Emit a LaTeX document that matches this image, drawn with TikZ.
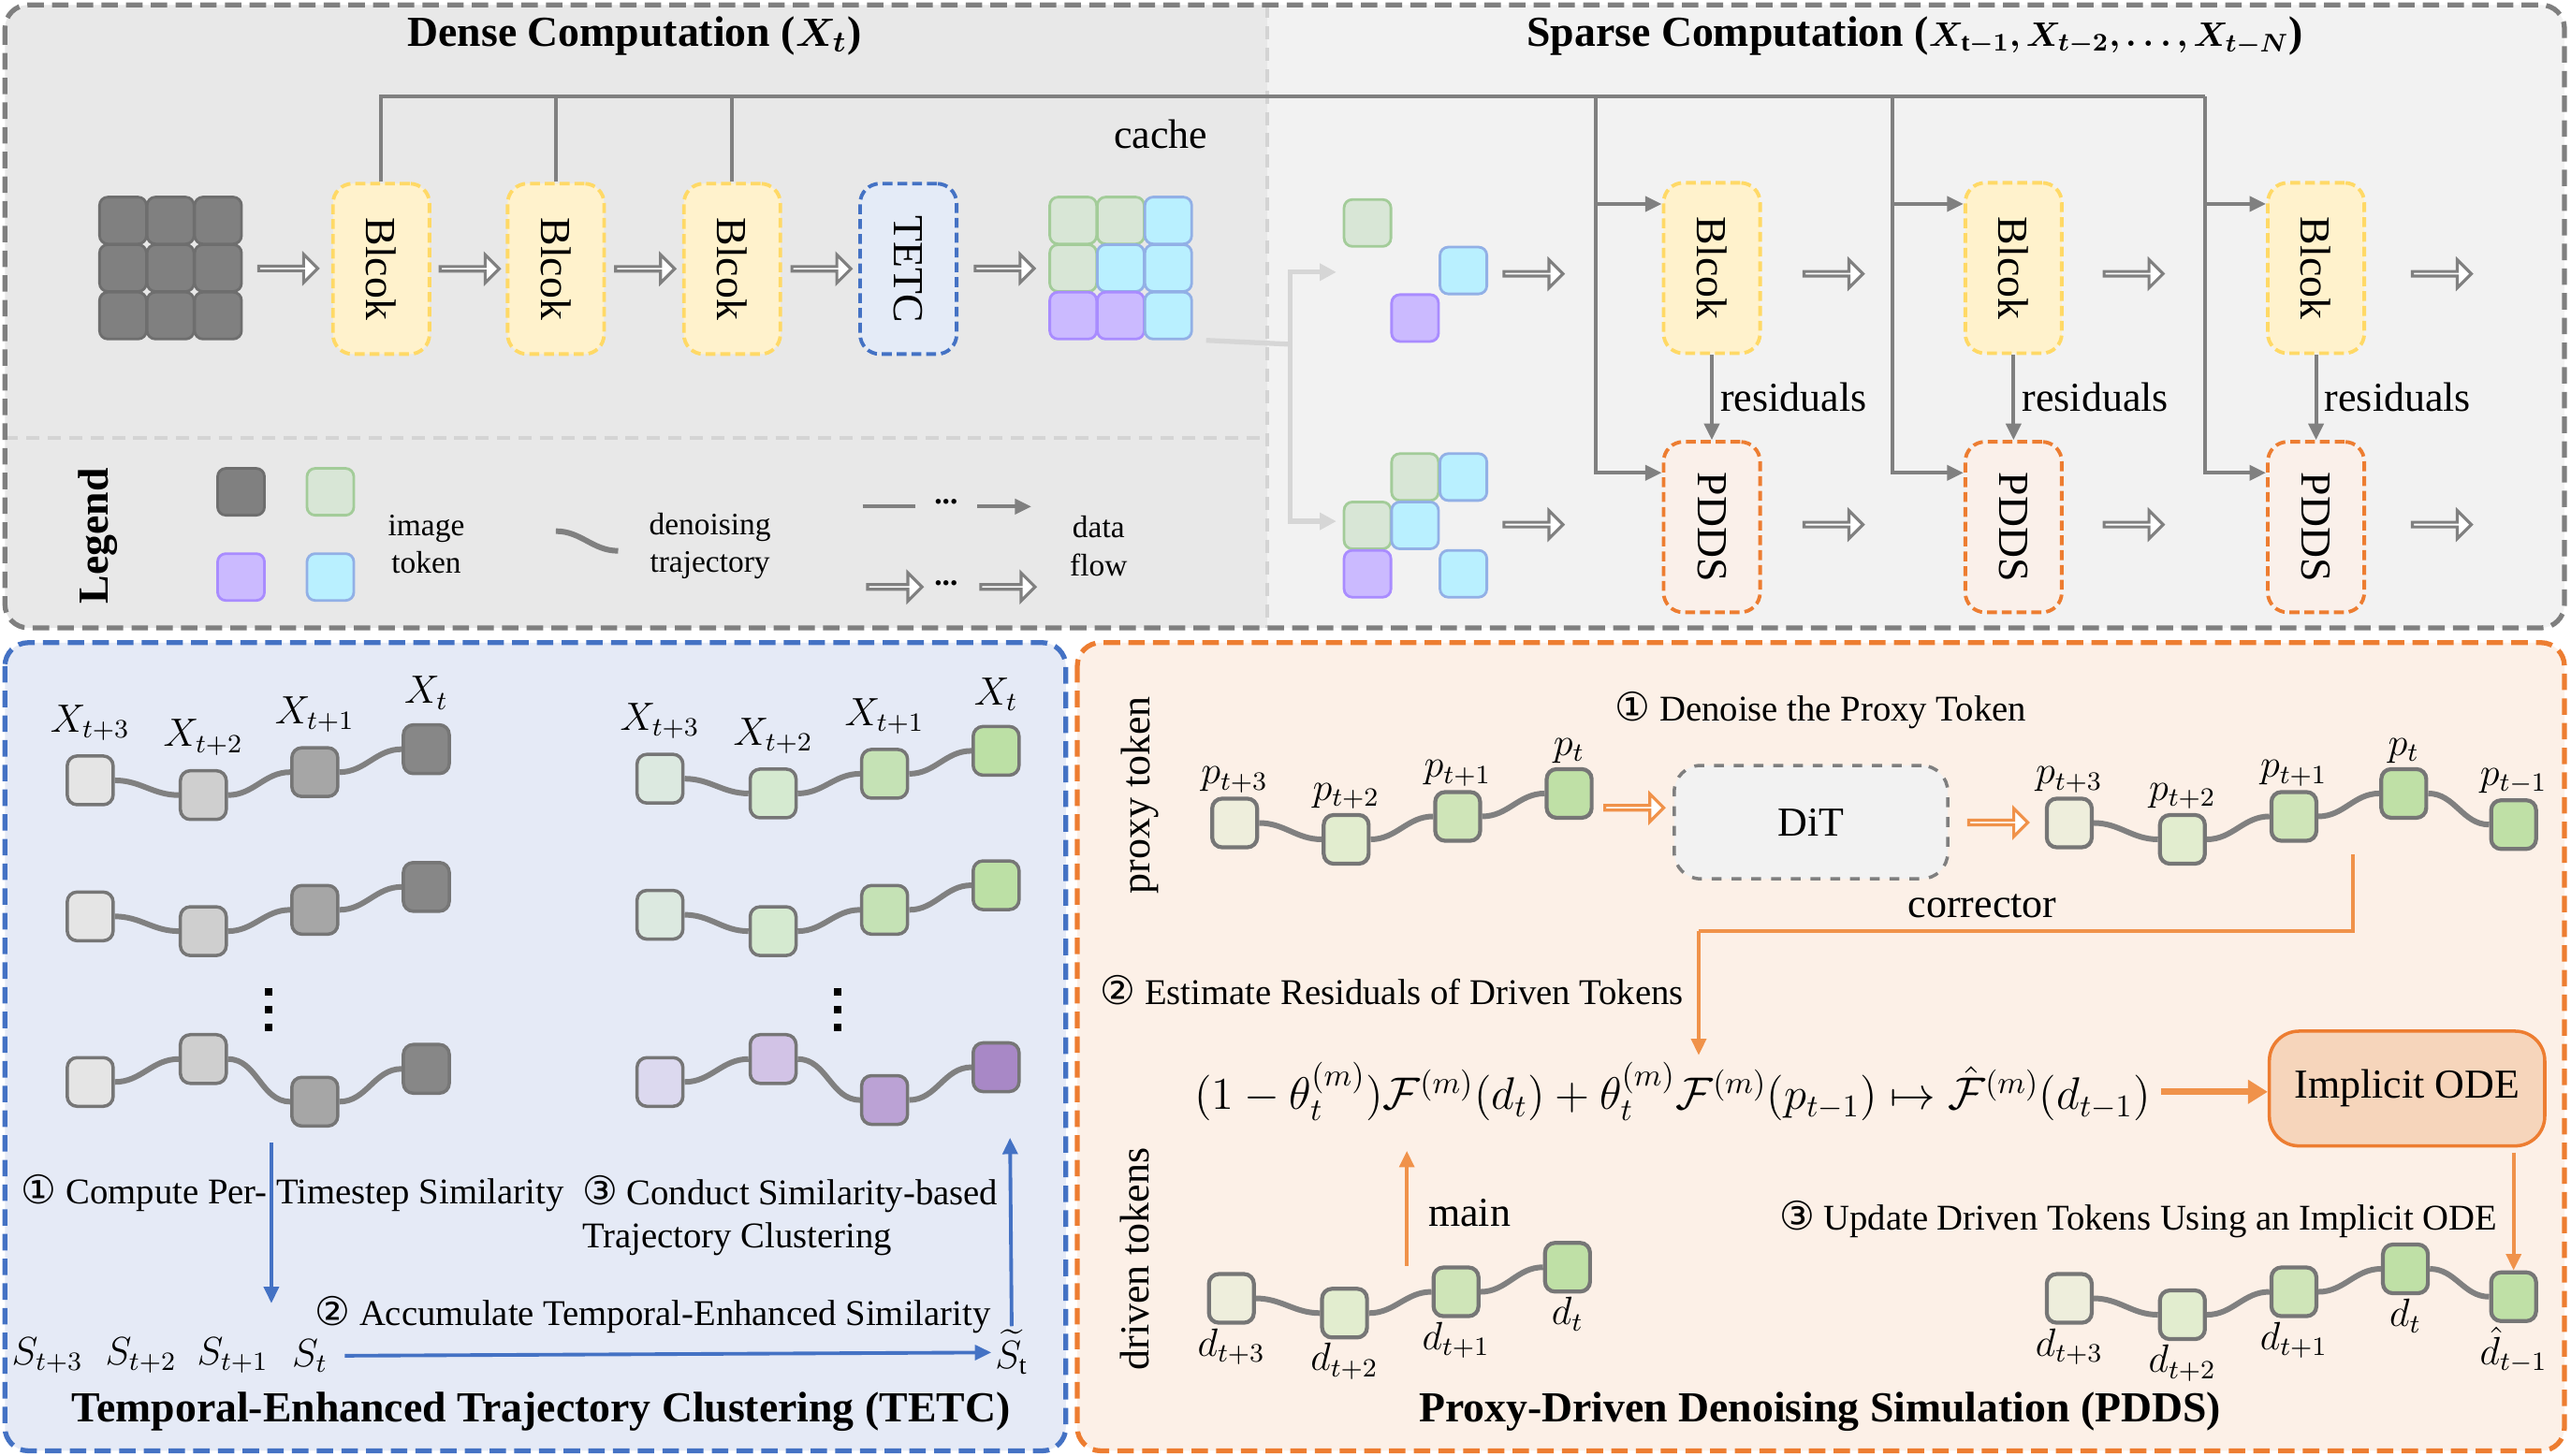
\documentclass[tikz,border=0pt]{standalone}
\usepackage{amsmath}
\usepackage{amssymb}
\usepackage{bm}
\usepackage{fontspec}
\setmainfont{Liberation Serif}
\newfontfamily\circfont{DejaVu Sans}
\usepackage{tikz}
\usetikzlibrary{positioning,shapes,calc,fit,arrows.meta}

\definecolor{framegray}{HTML}{7F7F7F}
\definecolor{densebg}{HTML}{E8E8E8}
\definecolor{sparsebg}{HTML}{F2F2F2}
\definecolor{divgray}{HTML}{D4D4D4}
\definecolor{tetcblue}{HTML}{4472C4}
\definecolor{tetcbg}{HTML}{E5EAF6}
\definecolor{pddsorange}{HTML}{ED7D31}
\definecolor{pddsbg}{HTML}{FCF0E7}
\definecolor{lineorange}{HTML}{F0924A}
\definecolor{blkfill}{HTML}{FFF2CC}
\definecolor{blkdraw}{HTML}{FFD966}
\definecolor{tetcfill}{HTML}{E4EBF7}
\definecolor{pdfill}{HTML}{FAF0EA}
\definecolor{odefill}{HTML}{F6D5BB}
\definecolor{arrgray}{HTML}{808080}
\definecolor{splitgray}{HTML}{D6D6D6}
% big token colours
\definecolor{drkF}{HTML}{808080}\definecolor{drkD}{HTML}{6E6E6E}
\definecolor{grnF}{HTML}{D8E6D6}\definecolor{grnD}{HTML}{A3CC99}
\definecolor{cynF}{HTML}{B9F0FF}\definecolor{cynD}{HTML}{92B0E6}
\definecolor{prpF}{HTML}{CBBAFF}\definecolor{prpD}{HTML}{A98CFF}
% trajectory colours
\definecolor{trajdraw}{HTML}{767676}
\definecolor{gA}{HTML}{E5E5E5}\definecolor{gB}{HTML}{CFCFCF}
\definecolor{gC}{HTML}{A6A6A6}\definecolor{gD}{HTML}{878787}
\definecolor{eA}{HTML}{DCE9E0}\definecolor{eB}{HTML}{D5EAD0}
\definecolor{eC}{HTML}{C5E2B5}\definecolor{eD}{HTML}{BCE0A5}
\definecolor{uA}{HTML}{DCD9EF}\definecolor{uB}{HTML}{D2C3E6}
\definecolor{uC}{HTML}{BBA2D5}\definecolor{uD}{HTML}{A888C6}
\definecolor{pA}{HTML}{EEEEDC}\definecolor{pB}{HTML}{E2EDCF}
\definecolor{pC}{HTML}{CFE5B8}\definecolor{pD}{HTML}{BFE0A6}

\begin{document}
\begin{tikzpicture}[x=0.0175cm,y=-0.0175cm]

	\tikzset{boxframe/.style={draw=#1,line width=1.5pt,dash pattern=on 5pt off 2.5pt,rounded corners=0.25cm}}
	\tikzset{divline/.style={draw=divgray,line width=1pt,dash pattern=on 4pt off 2.5pt}}
	\tikzset{titlestyle/.style={font=\fontsize{13}{15}\selectfont\bfseries}}
	\tikzset{txt/.style={font=\fontsize{12.5}{14}\selectfont}}
	\tikzset{steptxt/.style={font=\fontsize{11}{13}\selectfont,align=left}}
	\tikzset{smalltxt/.style={font=\fontsize{9.5}{11.5}\selectfont,align=center}}
	\tikzset{mathlbl/.style={font=\fontsize{12}{14}\selectfont,inner sep=1pt}}
	\tikzset{dotstyle/.style={fill=black,inner sep=0pt,minimum size=0.08cm}}
	\tikzset{bigtok/.style={draw=#1D,fill=#1F,rounded corners=2.5pt,line width=0.8pt,minimum size=0.5cm,inner sep=0pt}}
	\tikzset{trajtok/.style={draw=trajdraw,fill=#1,rounded corners=3pt,line width=1pt,minimum width=0.49cm,minimum height=0.52cm,inner sep=0pt}}
	\tikzset{pdtok/.style={draw=trajdraw,fill=#1,rounded corners=3pt,line width=1.2pt,minimum width=0.48cm,minimum height=0.52cm,inner sep=0pt}}
	\tikzset{trajline/.style={draw=arrgray,line width=1.7pt}}
	\tikzset{blkstyle/.style={draw=blkdraw,fill=blkfill,line width=1.1pt,dash pattern=on 3pt off 1.5pt,rounded corners=6pt,minimum width=1.03cm,minimum height=1.82cm,inner sep=0pt,font=\fontsize{13}{15}\selectfont}}
	\tikzset{tetcstyle/.style={blkstyle,draw=tetcblue,fill=tetcfill}}
	\tikzset{pddsstyle/.style={blkstyle,draw=pddsorange,fill=pdfill}}
	\tikzset{harrow/.style={single arrow,draw=#1,fill=white,line width=0.9pt,minimum height=0.63cm,minimum width=0.3cm,single arrow head extend=0.08cm,inner sep=0pt}}
	\tikzset{cline/.style={draw=arrgray,line width=1.2pt}}
	\tikzset{carrow/.style={cline,-{Triangle[length=5pt,width=4.5pt]}}}
	\tikzset{splitline/.style={draw=splitgray,line width=1.5pt}}
	\tikzset{splitarrow/.style={splitline,-{Triangle[length=5pt,width=5pt]}}}
	\tikzset{blarrow/.style={draw=tetcblue,line width=1.1pt,-{Triangle[length=5pt,width=4.5pt]}}}
	\tikzset{orline/.style={draw=lineorange,line width=1.1pt}}
	\tikzset{orarrow/.style={orline,-{Triangle[length=5pt,width=4.5pt]}}}
	\tikzset{orthick/.style={draw=lineorange,line width=2pt,-{Triangle[length=6pt,width=7pt]}}}

	\newcommand\stepno[1]{{\circfont\fontsize{12}{14}\selectfont #1}}

	\newcommand\trajRow[7]{ % {name}{xshift}{y1}{y2}{y3}{y4}{colour set}
		\node[trajtok=#7A] (#1a) at (55+#2,#3) {};
		\node[trajtok=#7B] (#1b) at (124+#2,#4) {};
		\node[trajtok=#7C] (#1c) at (192+#2,#5) {};
		\node[trajtok=#7D] (#1d) at (260+#2,#6) {};
		\draw[trajline]
		(#1a.east) to[out=0,in=180] (#1b.west)
		(#1b.east) to[out=0,in=180] (#1c.west)
		(#1c.east) to[out=0,in=180] (#1d.west);
	}

	\useasboundingbox (0,0) rectangle (1568,888);

	% frames
	\begin{scope}
		\clip[rounded corners=0.25cm] (3,3) rectangle (1564,383);
		\fill[densebg] (3,3) rectangle (773,383);
		\fill[sparsebg] (773,3) rectangle (1564,383);
	\end{scope}
	\draw[divline] (3,267) -- (773,267);
	\draw[divline] (773,3) -- (773,383);
	\draw[boxframe=framegray] (3,3) rectangle (1564,383);
	\draw[boxframe=tetcblue,fill=tetcbg] (3,392) rectangle (650,885);
	\draw[boxframe=pddsorange,fill=pddsbg] (657,392) rectangle (1564,885);

	\node[titlestyle] (densetitle) at (387,22) {Dense Computation ($\bm{X_t}$)};
	\node[titlestyle] (sparsetitle) at (1168,22) {Sparse Computation (\scalebox{0.86}{$\bm{X_{\mathrm{t}-1}, X_{t-2}, \ldots, X_{t-N}}$})};

	% dense computation
	\foreach \r in {0,1,2}
	\foreach \c in {0,1,2}
	{
		\node[bigtok=drk] (g\r\c) at (75+29*\c,134.5+29*\r) {};
	}
	\node[blkstyle] (db1) at (232.5,164) {\rotatebox{-90}{Blcok}};
	\node[blkstyle] (db2) at (339,164) {\rotatebox{-90}{Blcok}};
	\node[blkstyle] (db3) at (446.5,164) {\rotatebox{-90}{Blcok}};
	\node[tetcstyle] (tetc) at (554,164) {\rotatebox{-90}{TETC}};
	\foreach \r/\c/\k in {0/0/grn,0/1/grn,0/2/cyn,1/0/grn,1/1/cyn,1/2/cyn,2/0/prp,2/1/prp,2/2/cyn}
	{
		\node[bigtok=\k] (cg\r\c) at (654.5+29*\c,134.5+29*\r) {};
	}
	\node[harrow=arrgray] at ($(g12.east)!.5!(db1.west)$) {};
	\node[harrow=arrgray] at ($(db1.east)!.5!(db2.west)$) {};
	\node[harrow=arrgray] at ($(db2.east)!.5!(db3.west)$) {};
	\node[harrow=arrgray] at ($(db3.east)!.5!(tetc.west)$) {};
	\node[harrow=arrgray] at ($(tetc.east)!.5!(cg10.west)$) {};
	\node[txt] (cache) at (708,82) {cache};

	% sparse computation
	\node[bigtok=grn] (st1) at (834,136) {};
	\node[bigtok=cyn] (st2) at (892.5,165) {};
	\node[bigtok=prp] (st3) at (863,194) {};
	\node[bigtok=grn] (sl1) at (863,291) {};
	\node[bigtok=cyn] (sl2) at (892.5,291) {};
	\node[bigtok=grn] (sl3) at (834,320.5) {};
	\node[bigtok=cyn] (sl4) at (863,320.5) {};
	\node[bigtok=prp] (sl5) at (834,350) {};
	\node[bigtok=cyn] (sl6) at (892.5,350) {};

	\node[blkstyle] (sb1) at (1044,163.5) {\rotatebox{-90}{Blcok}};
	\node[blkstyle] (sb2) at (1228,163.5) {\rotatebox{-90}{Blcok}};
	\node[blkstyle] (sb3) at (1412.5,163.5) {\rotatebox{-90}{Blcok}};
	\node[pddsstyle] (pd1) at (1044,321.5) {\rotatebox{-90}{PDDS}};
	\node[pddsstyle] (pd2) at (1228,321.5) {\rotatebox{-90}{PDDS}};
	\node[pddsstyle] (pd3) at (1412.5,321.5) {\rotatebox{-90}{PDDS}};

	\foreach \x in {934.5,1117.5,1300.5,1488.5}
	{
		\node[harrow=arrgray] at (\x,167) {};
		\node[harrow=arrgray] at (\x,320) {};
	}

	\coordinate (k1) at (973,59);
	\coordinate (k2) at (1154,59);
	\coordinate (k3) at (1345,59);
	\draw[cline] (db1.north) |- (k3);
	\draw[cline] (db2.north) -- (db2.north |- k1);
	\draw[cline] (db3.north) -- (db3.north |- k1);
	\foreach \k/\b/\p in {k1/sb1/pd1,k2/sb2/pd2,k3/sb3/pd3}
	{
		\coordinate (\b in) at ($(\b.north west)+(0,14)$);
		\coordinate (\p in) at ($(\p.north west)+(0,20)$);
		\draw[carrow] (\k) |- (\p in);
		\draw[carrow] (\k |- \b in) -- (\b in);
		\draw[carrow] (\b.south) -- (\p.north) node[txt,midway,right,inner sep=2pt] {residuals};
	}

	\coordinate (sp0) at ($(cg22.south east)+(8,0)$);
	\coordinate (sp1) at (787,210);
	\coordinate (spA) at (815,166);
	\coordinate (spB) at (815,318);
	\draw[splitline] (sp0) -- (sp1);
	\draw[splitarrow] (sp1) |- (spA);
	\draw[splitarrow] (sp1) |- (spB);

	% legend
	\node[font=\fontsize{13}{15}\selectfont\bfseries] (legend) at (60,327) {\rotatebox{90}{Legend}};
	\node[bigtok=drk] (lg1) at (147,300) {};
	\node[bigtok=grn] (lg2) at (201.5,300) {};
	\node[bigtok=prp] (lg3) at (147,352) {};
	\node[bigtok=cyn] (lg4) at (201.5,352) {};
	\node[smalltxt] (lgtok) at (260,332) {image\\token};
	\draw[trajline] (339,324) to[out=0,in=180] (377,336);
	\node[smalltxt] (lgtraj) at (433,333) {denoising\\trajectory};
	\draw[cline] (526,309) -- (558,309);
	\node[smalltxt] at (577,306) {\textbf{...}};
	\draw[carrow] (596,309) -- (629,309);
	\node[harrow=arrgray,minimum height=0.58cm] at (545,358) {};
	\node[smalltxt] at (577,356) {\textbf{...}};
	\node[harrow=arrgray,minimum height=0.58cm] at (614,358) {};
	\node[smalltxt] (lgflow) at (670,333) {data\\flow};

	% TETC
	\trajRow{L1}{0}{476}{485}{471}{457}{g}
	\trajRow{L2}{0}{559}{568}{555}{541}{g}
	\trajRow{L3}{0}{660}{646}{672}{652}{g}
	\trajRow{R1}{347.5}{475}{484}{472}{458}{e}
	\trajRow{R2}{347.5}{558}{568}{555}{540}{e}
	\trajRow{R3}{347.5}{660}{646}{671}{651}{u}
	\foreach \r in {L,R}
	{
		\node[mathlbl,above=3pt of \r1a] {$X_{t+3}$};
		\node[mathlbl,above=3pt of \r1b] {$X_{t+2}$};
		\node[mathlbl,above=3pt of \r1c] {$X_{t+1}$};
		\node[mathlbl,above=3pt of \r1d] {$X_{t}$};
	}
	\foreach \x in {164,511}
	\foreach \y in {605,616,627}
	{
		\node[dotstyle] at (\x,\y) {};
	}

	\node[steptxt,anchor=west] (step1) at (6,728) {\stepno{①} Compute Per- Timestep Similarity};
	\coordinate (s1a) at (165.5,697);
	\coordinate (s1b) at (165.5,795);
	\draw[blarrow] (s1a) -- (s1b);
	\node[steptxt,anchor=north west] (step3) at (348,710) {\stepno{③} Conduct Similarity-based\\Trajectory Clustering};
	\node[steptxt,anchor=west] (step2) at (185,802) {\stepno{②} Accumulate Temporal-Enhanced Similarity};

	\node[mathlbl] (s3) at (29,827) {$S_{t+3}$};
	\node[mathlbl] (s2) at (86,827) {$S_{t+2}$};
	\node[mathlbl] (s1) at (142,827) {$S_{t+1}$};
	\node[mathlbl] (s0) at (189,827) {$S_{t}$};
	\node[mathlbl] (stil) at (617,825) {$\widetilde{S}_{\mathrm{t}}$};
	\draw[blarrow] (s0.east) ++(8,0) -- (stil.west);
	\coordinate (s3b) at (616,694);
	\draw[blarrow] (stil.north) -- (s3b);

	\node[titlestyle] (tetctitle) at (330,861) {Temporal-Enhanced Trajectory Clustering (TETC)};

	% PDDS
	\node[txt] (proxylbl) at (695,485) {\rotatebox{90}{proxy token}};
	\node[txt] (drivenlbl) at (692,768) {\rotatebox{90}{driven tokens}};
	\node[steptxt,anchor=west] (pstep1) at (978,433) {\stepno{①} Denoise the Proxy Token};

	\foreach \n/\x/\y/\k/\l in {pl1/753/502/pA/t+3,pl2/821/512/pB/t+2,pl3/889/498/pC/t+1,pl4/957/484/pD/t,
		pr1/1262/502/pA/t+3,pr2/1331/512/pB/t+2,pr3/1399/498/pC/t+1,pr4/1466/484/pD/t,pr5/1533/503/pD/t-1}
	{
		\node[pdtok=\k,label={[mathlbl]above:$p_{\l}$}] (\n) at (\x,\y) {};
	}
	\foreach \n/\x/\y/\k/\l in {dl1/751/792/pA/t+3,dl2/820/801/pB/t+2,dl3/888/788/pC/t+1,dl4/956/773/pD/t,
		dr1/1262/792/pA/t+3,dr2/1331/802/pB/t+2,dr3/1399/788/pC/t+1,dr4/1467/774/pD/t}
	{
		\node[pdtok=\k,label={[mathlbl]below:$d_{\l}$}] (\n) at (\x,\y) {};
	}
	\node[pdtok=pD,label={[mathlbl]below:$\hat{d}_{t-1}$}] (dr5) at (1533,791) {};
	\foreach \a/\b in {pl1/pl2,pl2/pl3,pl3/pl4,pr1/pr2,pr2/pr3,pr3/pr4,pr4/pr5,dl1/dl2,dl2/dl3,dl3/dl4,dr1/dr2,dr2/dr3,dr3/dr4,dr4/dr5}
	{
		\draw[trajline] (\a.east) to[out=0,in=180] (\b.west);
	}

	\node[draw=framegray,dashed,fill=sparsebg,line width=1pt,rounded corners=8pt,minimum width=2.92cm,minimum height=1.21cm,txt] (dit) at (1104.5,501.5) {DiT};
	\node[harrow=lineorange] at ($(pl4.east)!.5!(dit.west)$) {};
	\node[harrow=lineorange] at ($(dit.east)!.5!(pr1.west)$) {};

	\node[steptxt,anchor=west] (pstep2) at (664,604) {\stepno{②} Estimate Residuals of Driven Tokens};
	\node[font=\fontsize{14}{16}\selectfont,inner sep=2pt] (fml) at (1020,666) {\scalebox{0.96}{$(1-\theta_t^{(m)})\mathcal{F}^{(m)}(d_t)+\theta_t^{(m)}\mathcal{F}^{(m)}(p_{t-1})\mapsto\hat{\mathcal{F}}^{(m)}(d_{t-1})$}};
	\node[draw=pddsorange,fill=odefill,line width=1pt,rounded corners=9pt,minimum width=2.94cm,minimum height=1.225cm,txt] (ode) at (1468,664) {Implicit ODE};

	\coordinate (corrA) at (1435,521);
	\coordinate (corrB) at (1036,568);
	\draw[orline] (corrA) |- (corrB);
	\draw[orarrow] (corrB) -- (corrB |- fml.north);
	\node[txt] (corrlbl) at (1209,553) {corrector};

	\draw[orthick] (fml.east -| 1318,0) -- (fml.east -| ode.west);
	\draw[orarrow] (dr5.north |- ode.south) ++(0,3) -- (dr5.north);

	\coordinate (mainA) at (858,772);
	\coordinate (mainB) at (858,702);
	\draw[orarrow] (mainA) -- (mainB);
	\node[txt,anchor=west] (mainlbl) at (864,740) {main};

	\node[steptxt,anchor=west] (pstep3) at (1078,744) {\stepno{③} Update Driven Tokens Using an Implicit ODE};

	\node[titlestyle] (pddstitle) at (1110,861) {Proxy-Driven Denoising Simulation (PDDS)};

\end{tikzpicture}
\end{document}
